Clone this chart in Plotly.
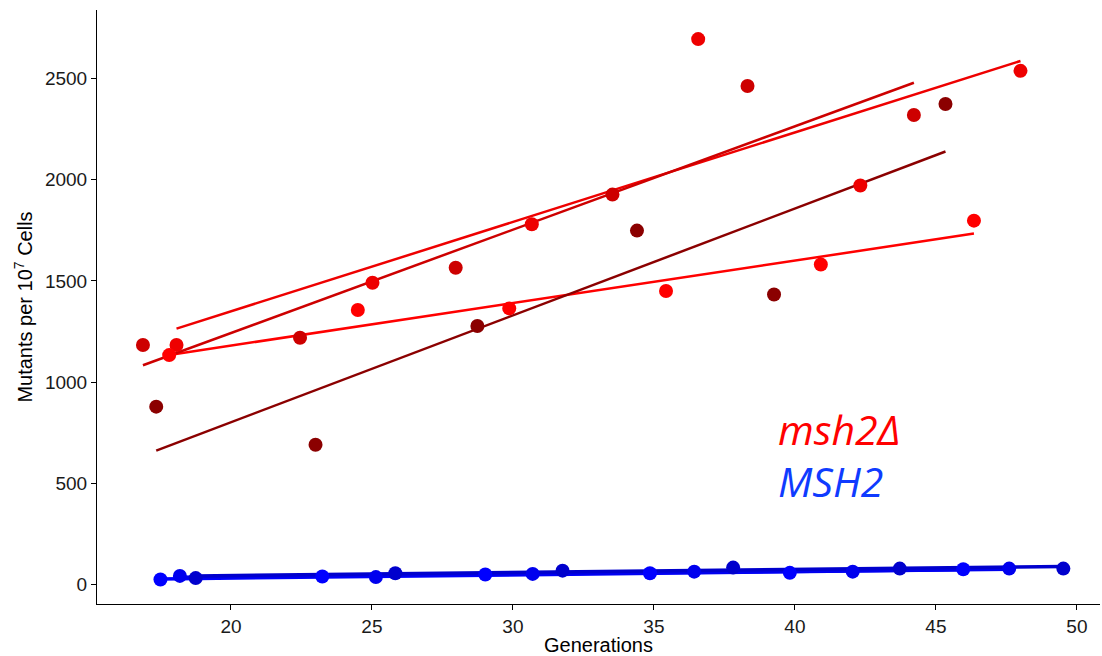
import plotly.graph_objects as go
import numpy as np

# ---- data ----
red_colors = ["#EE0000", "#FF0000", "#CD0000", "#8B0000"]
red_x = [
    [18.07, 25.02, 30.67, 36.57, 42.32, 48.00],
    [17.81, 24.50, 29.87, 35.43, 40.92, 46.35],
    [16.88, 22.45, 27.97, 33.53, 38.32, 44.22],
    [17.35, 23.00, 28.74, 34.40, 39.26, 45.34],
]
red_y = [
    [1183, 1491, 1780, 2696, 1972, 2539],
    [1133, 1356, 1364, 1450, 1581, 1798],
    [1183, 1219, 1565, 1927, 2464, 2321],
    [878, 690, 1277, 1749, 1433, 2375],
]
# fitted trend lines: value at first and last generation of each series
red_fit_start = [1264, 1134, 1083, 661]
red_fit_end = [2588, 1734, 2480, 2140]

blue_colors = ["#0000FF", "#0000EE", "#0000CD"]
blue_x = [
    [17.50, 23.24, 29.02, 34.86, 39.82, 45.97],
    [18.19, 25.14, 30.70, 36.43, 42.05, 47.60],
    [18.75, 25.83, 31.76, 37.81, 43.72, 49.52],
]
blue_y = [
    [23, 38, 48, 54, 56, 74],
    [41, 35, 51, 62, 62, 77],
    [30, 54, 67, 82, 77, 77],
]

x_ticks = [20, 25, 30, 35, 40, 45, 50]
y_ticks = [0, 500, 1000, 1500, 2000, 2500]

fig = go.Figure()

# trend lines
for c, xs, y0, y1 in zip(red_colors, red_x, red_fit_start, red_fit_end):
    fig.add_trace(go.Scatter(x=[min(xs), max(xs)], y=[y0, y1], mode="lines",
                             line=dict(color=c, width=2.5), hoverinfo="skip",
                             showlegend=False))
for c, xs, ys in zip(blue_colors, blue_x, blue_y):
    k, b = np.polyfit(xs, ys, 1)
    lx = np.array([min(xs), max(xs)])
    fig.add_trace(go.Scatter(x=lx, y=k * lx + b, mode="lines",
                             line=dict(color=c, width=3.5), hoverinfo="skip",
                             showlegend=False))

# points
for c, xs, ys in zip(red_colors, red_x, red_y):
    fig.add_trace(go.Scatter(x=xs, y=ys, mode="markers",
                             marker=dict(color=c, size=14, line=dict(width=0)),
                             showlegend=False))
for c, xs, ys in zip(blue_colors, blue_x, blue_y):
    fig.add_trace(go.Scatter(x=xs, y=ys, mode="markers",
                             marker=dict(color=c, size=14, line=dict(width=0)),
                             showlegend=False))

fig.add_annotation(x=39.33, y=768, text="<i>msh2Δ</i>", showarrow=False,
                   xanchor="left", yanchor="middle",
                   font=dict(family="Open Sans", size=41, color="#FF0000"))
fig.add_annotation(x=39.33, y=510, text="<i>MSH2</i>", showarrow=False,
                   xanchor="left", yanchor="middle",
                   font=dict(family="Open Sans", size=41, color="#0F3BFF"))

axis_font = dict(family="Liberation Sans, Arial", size=19, color="#1a1a1a")
title_font = dict(family="Liberation Sans, Arial", size=20, color="black")
fig.update_xaxes(range=[15.25, 50.82], tickvals=x_ticks, showgrid=False,
                 zeroline=False, showline=True, linecolor="black", linewidth=1,
                 ticks="outside", ticklen=5, tickcolor="black", tickfont=axis_font,
                 title=dict(text="Generations", standoff=3, font=title_font))
fig.update_yaxes(range=[-98, 2840], tickvals=y_ticks, showgrid=False,
                 zeroline=False, showline=True, linecolor="black", linewidth=1,
                 ticks="outside", ticklen=5, tickcolor="black", tickfont=axis_font,
                 title=dict(text="Mutants per 10<sup>7</sup> Cells", standoff=6,
                            font=title_font))

fig.update_layout(width=1102, height=656, plot_bgcolor="white", paper_bgcolor="white",
                  margin=dict(l=97, r=2, t=10, b=50), showlegend=False)

fig.write_html("out.html")
